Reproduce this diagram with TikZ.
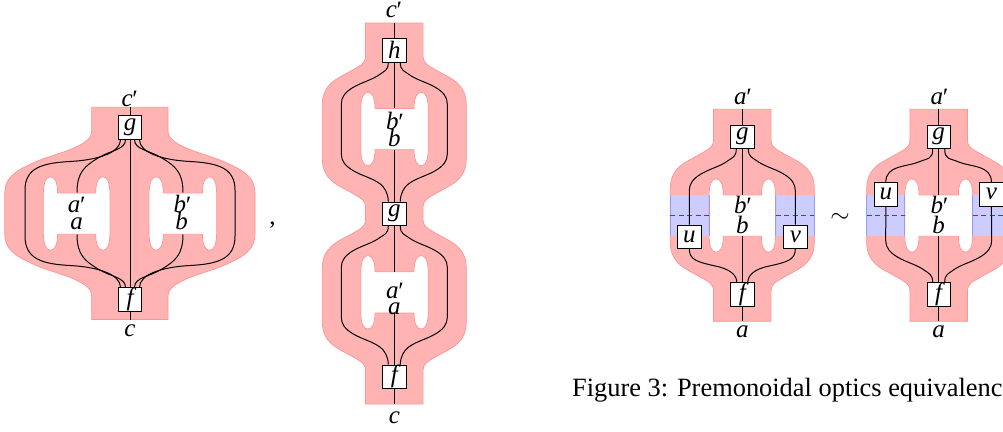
\documentclass[tikz,border=0pt]{standalone}
\usepackage{fontspec}
\setmainfont{Liberation Serif}
\definecolor{lobefill}{HTML}{FFB3B3}
\definecolor{lobeedge}{HTML}{FF9494}
\definecolor{bandfill}{HTML}{CCCCFF}
\definecolor{bandedge}{HTML}{9999FF}
\newcommand{\pr}{\kern-1.8pt\raisebox{-1pt}{′}}
\tikzset{
  lobe/.style={fill=lobefill,draw=lobeedge,line width=.7pt},
  hole/.style={fill=white,draw=lobeedge,line width=.7pt},
  band/.style={fill=bandfill},
  bandline/.style={draw=bandedge,line width=.7pt},
  cutline/.style={draw=red,line width=.55pt,dash pattern=on 5pt off 3.5pt},
  wire/.style={draw=black,line width=1pt},
  boxnode/.style={draw=black,fill=white,line width=1pt,minimum width=23.4pt,minimum height=23.4pt,inner sep=0pt,font=\fontsize{25}{28}\selectfont\itshape},
  lab/.style={anchor=base,inner sep=0pt,font=\fontsize{25}{28}\selectfont\itshape},
}
% outline of one lobe, downwards on side #3
\newcommand{\lobedown}[3]{
  -- (#1+#3*28.8,#2-75) .. controls (#1+#3*28.8,#2-71) and (#1+#3*31,#2-68.5) .. (#1+#3*34.3,#2-66)
  .. controls (#1+#3*44,#2-60) and (#1+#3*51,#2-57) .. (#1+#3*59.3,#2-51.7)
  .. controls (#1+#3*67,#2-46) and (#1+#3*72,#2-39) .. (#1+#3*72,#2-27)
  -- (#1+#3*72,#2+27)
  .. controls (#1+#3*72,#2+39) and (#1+#3*67,#2+46) .. (#1+#3*59.3,#2+51.7)
  .. controls (#1+#3*51,#2+57) and (#1+#3*44,#2+60) .. (#1+#3*34.3,#2+66)
  .. controls (#1+#3*31,#2+68.5) and (#1+#3*28.8,#2+71) .. (#1+#3*28.8,#2+75)
}
\newcommand{\lobeup}[3]{
  -- (#1+#3*28.8,#2+75) .. controls (#1+#3*28.8,#2+71) and (#1+#3*31,#2+68.5) .. (#1+#3*34.3,#2+66)
  .. controls (#1+#3*44,#2+60) and (#1+#3*51,#2+57) .. (#1+#3*59.3,#2+51.7)
  .. controls (#1+#3*67,#2+46) and (#1+#3*72,#2+39) .. (#1+#3*72,#2+27)
  -- (#1+#3*72,#2-27)
  .. controls (#1+#3*72,#2-39) and (#1+#3*67,#2-46) .. (#1+#3*59.3,#2-51.7)
  .. controls (#1+#3*51,#2-57) and (#1+#3*44,#2-60) .. (#1+#3*34.3,#2-66)
  .. controls (#1+#3*31,#2-68.5) and (#1+#3*28.8,#2-71) .. (#1+#3*28.8,#2-75)
}
% hole: x from #1 to #2, centred on y #3
\newcommand{\holeshape}[3]{
  \path[hole] (#1+14.3,#3-20.6) .. controls (#1+14.3,#3-32) and (#1+11,#3-36.7) .. (#1+7.1,#3-36.7)
  .. controls (#1+3,#3-36.7) and (#1,#3-32) .. (#1,#3-18) -- (#1,#3+18)
  .. controls (#1,#3+32) and (#1+3,#3+36.7) .. (#1+7.1,#3+36.7)
  .. controls (#1+11,#3+36.7) and (#1+14.3,#3+32) .. (#1+14.3,#3+20.6)
  -- (#2-14.3,#3+20.6)
  .. controls (#2-14.3,#3+32) and (#2-11,#3+36.7) .. (#2-7.1,#3+36.7)
  .. controls (#2-3,#3+36.7) and (#2,#3+32) .. (#2,#3+18) -- (#2,#3-18)
  .. controls (#2,#3-32) and (#2-3,#3-36.7) .. (#2-7.1,#3-36.7)
  .. controls (#2-11,#3-36.7) and (#2-14.3,#3-32) .. (#2-14.3,#3-20.6) -- cycle;
}
% upper and lower half of a wire: node, cx, cy, side
\newcommand{\topwire}[4]{
  ([xshift=#4*6pt]#1.south) .. controls +(0,8) and (#2+#4*10,#3-58) .. (#2+#4*14,#3-55)
  .. controls (#2+#4*22,#3-49) and (#2+#4*32,#3-47) .. (#2+#4*41,#3-41.7)
  .. controls (#2+#4*49,#3-37) and (#2+#4*53,#3-32) .. (#2+#4*53,#3-25)
}
\newcommand{\botwire}[4]{
  (#2+#4*53,#3+25) .. controls (#2+#4*53,#3+32) and (#2+#4*49,#3+37) .. (#2+#4*41,#3+41.7)
  .. controls (#2+#4*32,#3+47) and (#2+#4*22,#3+49) .. (#2+#4*14,#3+55)
  .. controls (#2+#4*10,#3+58) and ([xshift=#4*6pt,yshift=8pt]#1.north) .. ([xshift=#4*6pt]#1.north)
}
\begin{document}
\begin{tikzpicture}[x=1pt,y=-1pt]
\useasboundingbox (0,0) rectangle (1003,431);
\clip (0,0) rectangle (1003,431);

% ---------- left figure ----------
\path[lobe] (91.7,107.3) -- (91.7,131) .. controls (91.7,136) and (89,139) .. (85,142)
  .. controls (70,152) and (50,155) .. (33,163) .. controls (15,171) and (4.7,178) .. (4.7,193)
  -- (4.7,234) .. controls (4.7,249) and (15,256) .. (33,264) .. controls (50,272) and (70,275) .. (85,285)
  .. controls (89,288) and (91.7,291) .. (91.7,296) -- (91.7,319.5) -- (168,319.5) -- (168,296)
  .. controls (168,291) and (171,288) .. (175,285) .. controls (190,275) and (210,272) .. (227,264)
  .. controls (245,256) and (255,249) .. (255,234) -- (255,193)
  .. controls (255,178) and (245,171) .. (227,163) .. controls (210,155) and (190,152) .. (175,142)
  .. controls (171,139) and (168,136) .. (168,131) -- (168,107.3) -- cycle;
\holeshape{43.3}{110}{213.5}
\holeshape{149}{216.7}{213.5}
\coordinate (Atop) at (130,107.3);
\coordinate (Abot) at (130,319.5);
\node[boxnode] (Ag) at (130,127.5) {g};
\node[boxnode] (Af) at (130,299.5) {f};
\draw[wire] (Atop) -- (Ag.north);
\draw[wire] (Ag.south) -- (Af.north);
\draw[wire] (Af.south) -- (Abot);
\foreach \s in {-1,1}{
  \draw[wire] ([xshift=\s*9.5pt]Ag.south) .. controls +(0,13) and (130+\s*32,160) .. (130+\s*60,161.5)
    .. controls (130+\s*88,163) and (130+\s*105,168) .. (130+\s*105,190)
    -- (130+\s*105,236)
    .. controls (130+\s*105,259) and (130+\s*88,264) .. (130+\s*60,265.5)
    .. controls (130+\s*32,267) and ([xshift=\s*9.5pt,yshift=13pt]Af.north) .. ([xshift=\s*9.5pt]Af.north);
  \draw[wire] ([xshift=\s*4.5pt]Ag.south) .. controls +(0,10) and (130+\s*19,150) .. (130+\s*32,158)
    .. controls (130+\s*45,166) and (130+\s*53,172) .. (130+\s*53,192.5);
  \draw[wire] (130+\s*53,234.5) .. controls (130+\s*53,255) and (130+\s*45,261) .. (130+\s*32,269)
    .. controls (130+\s*19,277) and ([xshift=\s*4.5pt,yshift=10pt]Af.north) .. ([xshift=\s*4.5pt]Af.north);
}
\node[lab] (Lcp) at (129,106) {c\pr};
\node[lab] (Lc) at (130,336) {c};
\node[lab] (Lap) at (76,212.7) {a\pr};
\node[lab] (La) at (76.7,229) {a};
\node[lab] (Lbp) at (181.7,212.7) {b\pr};
\node[lab] (Lb) at (181.7,229) {b};
\node[lab,font=\fontsize{25}{28}\selectfont] (comma) at (272.5,224) {,};

% ---------- middle figure ----------
\def\mx{394.3}
\path[lobe] (\mx-28.8,23) \lobedown{\mx}{131.7}{-1} \lobedown{\mx}{295}{-1} -- (\mx-28.8,404)
  -- (\mx+28.8,404) \lobeup{\mx}{295}{1} \lobeup{\mx}{131.7}{1} -- (\mx+28.8,23) -- cycle;
\holeshape{360.7}{428.3}{129}
\holeshape{360.7}{428.3}{292.3}
\coordinate (Btop) at (\mx,23);
\coordinate (Bbot) at (\mx,404);
\coordinate (Bb1) at (\mx,108.4);
\coordinate (Bb2) at (\mx,149.6);
\coordinate (Ba1) at (\mx,271.7);
\coordinate (Ba2) at (\mx,312.9);
\node[boxnode] (Bh) at (\mx,50.3) {h};
\node[boxnode] (Bg) at (\mx,213.7) {g};
\node[boxnode] (Bf) at (\mx,376.7) {f};
\draw[wire] (Btop) -- (Bh.north);
\draw[wire] (Bh.south) -- (Bb1);
\draw[wire] (Bb2) -- (Bg.north);
\draw[wire] (Bg.south) -- (Ba1);
\draw[wire] (Ba2) -- (Bf.north);
\draw[wire] (Bf.south) -- (Bbot);
\foreach \s in {-1,1}{
  \draw[wire] \topwire{Bh}{\mx}{129}{\s} -- \botwire{Bg}{\mx}{129}{\s};
  \draw[wire] \topwire{Bg}{\mx}{292.3}{\s} -- \botwire{Bf}{\mx}{292.3}{\s};
}
\node[lab] (Mcp) at (\mx-1,17) {c\pr};
\node[lab] (Mc) at (\mx,423) {c};
\node[lab] (Mbp) at (\mx,129) {b\pr};
\node[lab] (Mb) at (\mx,146.7) {b};
\node[lab] (Map) at (\mx,298.3) {a\pr};
\node[lab] (Ma) at (\mx,314) {a};

% ---------- figure 3, left ----------
\def\cx{742.3}
\def\cy{215.5}
\path[lobe] (\cx-28.8,109.3) \lobedown{\cx}{\cy}{-1} -- (\cx-28.8,321.3) -- (\cx+28.8,321.3) \lobeup{\cx}{\cy}{1} -- (\cx+28.8,109.3) -- cycle;
\fill[band] (670.3,195) rectangle (709,236);
\fill[band] (775.7,195) rectangle (814.3,236);
\draw[bandline] (670.3,195) -- (670.3,236) (814.3,195) -- (814.3,236);
\holeshape{709}{775.7}{\cy}
\draw[bandline] (709,195) -- (709,236) (775.7,195) -- (775.7,236);
\draw[cutline] (670.3,215.7) -- (709,215.7);
\draw[cutline] (775.7,215.7) -- (814.3,215.7);
\coordinate (Ctop) at (\cx,109.3);
\coordinate (Cbot) at (\cx,321.3);
\coordinate (Cb1) at (\cx,195);
\coordinate (Cb2) at (\cx,236);
\node[boxnode] (Cg) at (\cx,136.7) {g};
\node[boxnode] (Cf) at (\cx,294.5) {f};
\node[boxnode] (Cu) at (689.3,236.7) {u};
\node[boxnode] (Cv) at (795.3,236.7) {v};
\draw[wire] (Ctop) -- (Cg.north);
\draw[wire] (Cg.south) -- (Cb1);
\draw[wire] (Cb2) -- (Cf.north);
\draw[wire] (Cf.south) -- (Cbot);
\draw[wire] \topwire{Cg}{\cx}{\cy}{-1} -- (Cu.north);
\draw[wire] \topwire{Cg}{\cx}{\cy}{1} -- (Cv.north);
\draw[wire] (Cu.south) .. controls +(0,11) and (\cx-45,262) .. (\cx-27,266)
  .. controls (\cx-12,269) and ([xshift=-5.5pt,yshift=7pt]Cf.north) .. ([xshift=-5.5pt]Cf.north);
\draw[wire] (Cv.south) .. controls +(0,11) and (\cx+45,262) .. (\cx+27,266)
  .. controls (\cx+12,269) and ([xshift=5.5pt,yshift=7pt]Cf.north) .. ([xshift=5.5pt]Cf.north);
\node[lab] (Cap) at (\cx,104) {a\pr};
\node[lab] (Ca) at (\cx,337) {a};
\node[lab] (Cbp) at (\cx,213.3) {b\pr};
\node[lab] (Cb) at (\cx,233.7) {b};

\node[anchor=base,inner sep=0pt,font=\fontsize{28}{30}\selectfont] (sim) at (840,222) {$\sim$};

% ---------- figure 3, right ----------
\def\dx{938.7}
\path[lobe] (\dx-28.8,109.3) \lobedown{\dx}{\cy}{-1} -- (\dx-28.8,321.3) -- (\dx+28.8,321.3) \lobeup{\dx}{\cy}{1} -- (\dx+28.8,109.3) -- cycle;
\fill[band] (866.7,195) rectangle (904.7,236);
\fill[band] (972.7,195) rectangle (1011,236);
\draw[bandline] (866.7,195) -- (866.7,236);
\holeshape{904.7}{972.7}{\cy}
\draw[bandline] (904.7,195) -- (904.7,236) (972.7,195) -- (972.7,236);
\draw[cutline] (866.7,215.7) -- (904.7,215.7);
\draw[cutline] (972.7,215.7) -- (1011,215.7);
\coordinate (Dtop) at (\dx,109.3);
\coordinate (Dbot) at (\dx,321.3);
\coordinate (Db1) at (\dx,195);
\coordinate (Db2) at (\dx,236);
\node[boxnode] (Dg) at (\dx,136.7) {g};
\node[boxnode] (Df) at (\dx,294.5) {f};
\node[boxnode] (Du) at (885.8,194.3) {u};
\node[boxnode] (Dv) at (991.4,194.3) {v};
\draw[wire] (Dtop) -- (Dg.north);
\draw[wire] (Dg.south) -- (Db1);
\draw[wire] (Db2) -- (Df.north);
\draw[wire] (Df.south) -- (Dbot);
\draw[wire] ([xshift=-6pt]Dg.south) .. controls +(0,11) and (\dx-11,158) .. (\dx-20,162)
  .. controls (\dx-32,167) and (\dx-52.9,165) .. (Du.north);
\draw[wire] ([xshift=6pt]Dg.south) .. controls +(0,11) and (\dx+11,158) .. (\dx+20,162)
  .. controls (\dx+32,167) and (\dx+52.7,165) .. (Dv.north);
\draw[wire] (Du.south) -- \botwire{Df}{\dx}{\cy}{-1};
\draw[wire] (Dv.south) -- \botwire{Df}{\dx}{\cy}{1};
\node[lab] (Dap) at (\dx,104) {a\pr};
\node[lab] (Da) at (\dx,337) {a};
\node[lab] (Dbp) at (\dx,213.3) {b\pr};
\node[lab] (Db) at (\dx,233.7) {b};

\node[anchor=base west,inner sep=0pt,font=\fontsize{26.4}{30}\selectfont] (cap) at (572,396) {Figure 3: Premonoidal optics equivalenc};
\end{tikzpicture}
\end{document}
